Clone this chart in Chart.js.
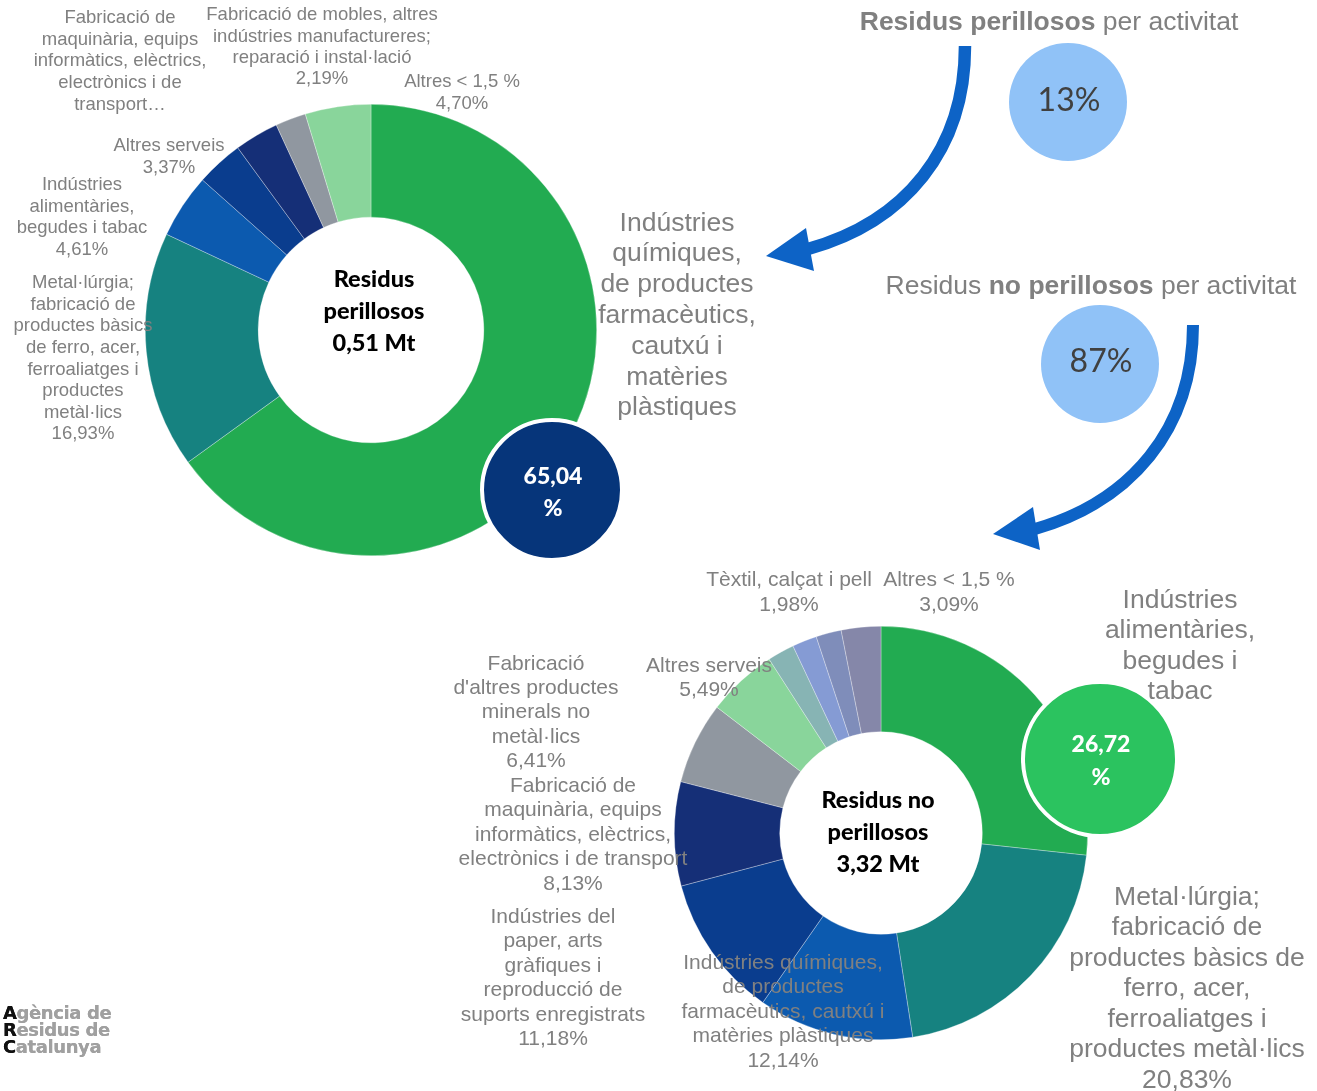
<!DOCTYPE html>
<html lang="ca">
<head>
<meta charset="utf-8">
<title>Residus per activitat</title>
<script src="https://cdn.jsdelivr.net/npm/chart.js@4.4.1/dist/chart.umd.min.js"></script>
<style>
  html, body { margin: 0; padding: 0; background: #fff; }
  #page { position: relative; width: 1317px; height: 1091px; overflow: hidden; font-family: "Liberation Sans", Arial, sans-serif; }
  canvas, svg { position: absolute; }
  .lbl { position: absolute; transform: translateX(-50%); text-align: center; white-space: nowrap; color: #808080; }
  .center { position: absolute; transform: translateX(-50%); text-align: center; white-space: nowrap; font-family: Lato, sans-serif; font-weight: 900; color: #000; }
  .title { position: absolute; transform: translateX(-50%); white-space: nowrap; color: #808080; font-size: 26.5px; }
  .logo { position: absolute; left: 3px; top: 1004px; font-family: "DejaVu Sans", sans-serif; font-weight: bold; font-size: 18px; line-height: 17px; color: #a0a0a0; letter-spacing: -0.4px; text-shadow: 0 0 0.6px #a0a0a0; }
  .logo b { color: #111; text-shadow: 0 0 0.6px #111; }
</style>
</head>
<body>
<div id="page">
  <canvas id="chartPerillosos" width="452" height="452" style="left:145px; top:104px;"></canvas>
  <canvas id="chartNoPerillosos" width="414" height="414" style="left:674px; top:626px;"></canvas>
  <svg id="overlay" width="1317" height="1091" style="left:0; top:0;"></svg>
  <div id="labels"></div>
  <div class="logo"><b>A</b>gència de<br><b>R</b>esidus de<br><b>C</b>atalunya</div>
</div>
<script>
// Residus perillosos (0,51 Mt) - share by activity, %
const catPerillosos = [
    'Indústries químiques, de productes farmacèutics, cautxú i matèries plàstiques',
    'Metal·lúrgia; fabricació de productes bàsics de ferro, acer, ferroaliatges i productes metàl·lics',
    'Indústries alimentàries, begudes i tabac',
    'Altres serveis',
    'Fabricació de maquinària, equips informàtics, elèctrics, electrònics i de transport',
    'Fabricació de mobles, altres indústries manufactureres; reparació i instal·lació',
    'Altres < 1,5 %'
];
const valPerillosos = [65.04, 16.93, 4.61, 3.37, 3.16, 2.19, 4.70];

// Residus no perillosos (3,32 Mt) - share by activity, %
const catNoPerillosos = [
    'Indústries alimentàries, begudes i tabac',
    'Metal·lúrgia; fabricació de productes bàsics de ferro, acer, ferroaliatges i productes metàl·lics',
    'Indústries químiques, de productes farmacèutics, cautxú i matèries plàstiques',
    'Indústries del paper, arts gràfiques i reproducció de suports enregistrats',
    'Fabricació de maquinària, equips informàtics, elèctrics, electrònics i de transport',
    "Fabricació d'altres productes minerals no metàl·lics",
    'Altres serveis',
    '(sense etiqueta A)',
    '(sense etiqueta B)',
    'Tèxtil, calçat i pell',
    'Altres < 1,5 %'
];
const valNoPerillosos = [26.72, 20.83, 12.14, 11.18, 8.13, 6.41, 5.49, 2.10, 1.93, 1.98, 3.09];

// share of total waste
const totals = { perillosos: '0,51 Mt', noPerillosos: '3,32 Mt' };
const shareLabels = ['13%', '87%'];

const colorsPerillosos = ['#22ab51', '#168280', '#0c5aaf', '#0a3d8e', '#152f77', '#9097a0', '#89d59b'];
const colorsNoPerillosos = ['#22ab51', '#168280', '#0c5aaf', '#0a3d8e', '#152f77', '#9097a0', '#89d59b',
    '#87b4b4', '#859bd4', '#7f8dba', '#8587a9'];

const fmt = v => v.toFixed(2).replace('.', ',') + '%';

const makeDoughnut = (id, labels, values, colors, cutout) => {
    return new Chart(document.getElementById(id), {
        type: 'doughnut',
        data: {
            labels: labels,
            datasets: [{
                data: values,
                backgroundColor: colors,
                borderColor: 'rgba(255,255,255,0.5)',
                borderWidth: 0.6
            }]
        },
        options: {
            responsive: false,
            animation: false,
            devicePixelRatio: 1,
            cutout: cutout,
            layout: { padding: 0 },
            plugins: {
                legend: { display: false },
                tooltip: { enabled: false }
            }
        }
    });
};

makeDoughnut('chartPerillosos', catPerillosos, valPerillosos, colorsPerillosos, '50%');
makeDoughnut('chartNoPerillosos', catNoPerillosos, valNoPerillosos, colorsNoPerillosos, '49%');

// Label placement: [chart, index, centre x, first line y, font size, line height, lines, show %]
const labelLayout = [
    ['A', 0, 677, 222, 26.5, 30.8, ['Indústries', 'químiques,', 'de productes', 'farmacèutics,', 'cautxú i', 'matèries', 'plàstiques'], false],
    ['A', 1, 83, 282, 18.5, 21.6, ['Metal·lúrgia;', 'fabricació de', 'productes bàsics', 'de ferro, acer,', 'ferroaliatges i', 'productes', 'metàl·lics'], true],
    ['A', 2, 82, 184, 18.5, 21.6, ['Indústries', 'alimentàries,', 'begudes i tabac'], true],
    ['A', 3, 169, 145, 18.5, 21.6, ['Altres serveis'], true],
    ['A', 4, 120, 17, 18.5, 21.6, ['Fabricació de', 'maquinària, equips', 'informàtics, elèctrics,', 'electrònics i de', 'transport…'], false],
    ['A', 5, 322, 14, 18.5, 21.2, ['Fabricació de mobles, altres', 'indústries manufactureres;', 'reparació i instal·lació'], true],
    ['A', 6, 462, 81, 18.5, 21.6, ['Altres < 1,5 %'], true],
    ['B', 0, 1180, 599, 26.5, 30.6, ['Indústries', 'alimentàries,', 'begudes i', 'tabac'], false],
    ['B', 1, 1187, 896, 26.5, 30.5, ['Metal·lúrgia;', 'fabricació de', 'productes bàsics de', 'ferro, acer,', 'ferroaliatges i', 'productes metàl·lics'], true],
    ['B', 2, 783, 962, 21, 24.5, ['Indústries químiques,', 'de productes', 'farmacèutics, cautxú i', 'matèries plàstiques'], true],
    ['B', 3, 553, 916, 21, 24.5, ['Indústries del', 'paper, arts', 'gràfiques i', 'reproducció de', 'suports enregistrats'], true],
    ['B', 4, 573, 785, 21, 24.5, ['Fabricació de', 'maquinària, equips', 'informàtics, elèctrics,', 'electrònics i de transport'], true],
    ['B', 5, 536, 663, 21, 24.3, ['Fabricació', "d'altres productes", 'minerals no', 'metàl·lics'], true],
    ['B', 6, 709, 665, 21, 24.5, ['Altres serveis'], true],
    ['B', 9, 789, 578, 21, 25, ['Tèxtil, calçat i pell'], true],
    ['B', 10, 949, 578, 21, 25, ['Altres < 1,5 %'], true]
];

const labelsEl = document.getElementById('labels');
const addText = (cls, x, y, size, lh, lines, extra) => {
    const d = document.createElement('div');
    d.className = cls;
    d.style.left = x + 'px';
    d.style.top = (y - lh / 2) + 'px';
    d.style.fontSize = size + 'px';
    d.style.lineHeight = lh + 'px';
    if (extra) Object.assign(d.style, extra);
    d.innerHTML = lines.join('<br>');
    labelsEl.appendChild(d);
    return d;
};

labelLayout.forEach(([chart, i, x, y, size, lh, lines, showPct]) => {
    const values = chart === 'A' ? valPerillosos : valNoPerillosos;
    const text = showPct ? lines.concat([fmt(values[i])]) : lines;
    addText('lbl', x, y, size, lh, text);
});

// Overlay: arrows and highlight circles
const svg = document.getElementById('overlay');
const svgNS = 'http://www.w3.org/2000/svg';
const svgEl = (tag, attrs) => {
    const e = document.createElementNS(svgNS, tag);
    Object.keys(attrs).forEach(k => e.setAttribute(k, attrs[k]));
    svg.appendChild(e);
    return e;
};

// share circles
svgEl('circle', { cx: 1068, cy: 102, r: 59, fill: '#90c2f7' });
svgEl('circle', { cx: 1100, cy: 364, r: 59, fill: '#90c2f7' });

// arrows
svgEl('path', { d: 'M965,46 C965,150 905,222 808,249', fill: 'none', stroke: '#0d63c6', 'stroke-width': 12.5 });
svgEl('polygon', { points: '766,256 806,228 814,271', fill: '#0d63c6' });
svgEl('path', { d: 'M1193,325 C1193,430 1130,502 1035,529', fill: 'none', stroke: '#0d63c6', 'stroke-width': 12 });
svgEl('polygon', { points: '993,534 1033,507 1040,550', fill: '#0d63c6' });

// highlight circles over the main slices
svgEl('circle', { cx: 552, cy: 490, r: 70, fill: '#06357a', stroke: '#fff', 'stroke-width': 4 });
svgEl('circle', { cx: 1100, cy: 759, r: 77, fill: '#2bc35f', stroke: '#fff', 'stroke-width': 4 });

// centre texts
addText('center', 374, 278, 23.5, 32, ['Residus', 'perillosos', totals.perillosos]);
addText('center', 878, 799, 23.5, 32, ['Residus no', 'perillosos', totals.noPerillosos]);

// highlighted values
addText('center', 553, 475, 23, 32, [fmt(valPerillosos[0]).replace('%', ''), '%'], { color: '#fff' });
addText('center', 1101, 743, 23, 33, [fmt(valNoPerillosos[0]).replace('%', ''), '%'], { color: '#fff' });

// share values
addText('center', 1069, 99, 32, 36, [shareLabels[0]], { fontWeight: 'normal', color: '#404040' });
addText('center', 1101, 360, 32, 36, [shareLabels[1]], { fontWeight: 'normal', color: '#404040' });

// titles
addText('title', 1049, 21, 26.5, 32, ['<b>Residus perillosos</b> per activitat']);
addText('title', 1091, 285, 26.5, 32, ['Residus <b>no perillosos</b> per activitat']);
</script>
</body>
</html>
